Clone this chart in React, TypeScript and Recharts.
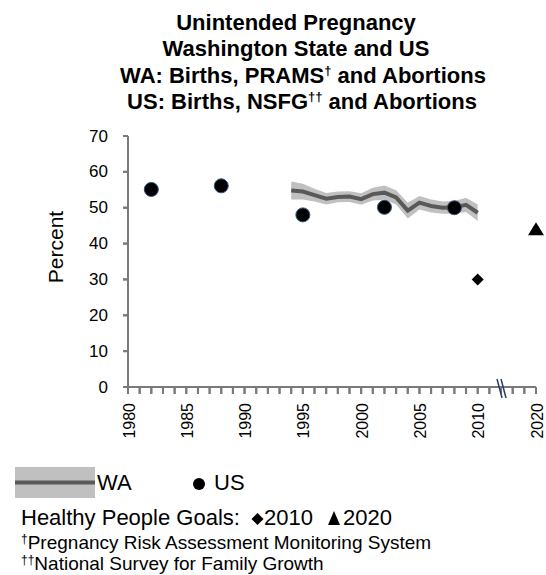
import { ComposedChart, Area, Line, Scatter, XAxis, YAxis } from "recharts";

// WA: births, PRAMS and abortions (line with confidence band)
const waYears = [1994, 1995, 1996, 1997, 1998, 1999, 2000, 2001, 2002, 2003, 2004, 2005, 2006, 2007, 2008, 2009, 2010];
const waPercent = [54.8, 54.5, 53.5, 52.5, 53.0, 53.1, 52.4, 53.8, 54.2, 52.9, 49.2, 51.4, 50.5, 50.0, 50.1, 50.8, 48.6];
const waLower = [52.3, 52.3, 51.7, 50.9, 51.5, 51.6, 50.8, 52.0, 52.2, 50.9, 47.0, 49.5, 48.7, 48.3, 48.3, 48.8, 46.3];
const waUpper = [57.3, 56.7, 55.3, 54.1, 54.5, 54.6, 54.0, 55.6, 56.2, 54.9, 51.4, 53.3, 52.3, 51.7, 51.9, 52.8, 50.9];

// US: births, NSFG and abortions
const usYears = [1982, 1988, 1995, 2002, 2008];
const usPercent = [55.1, 56.1, 48.0, 50.1, 50.0];

// Healthy People goals
const goalYears = [2010, 2020];
const goalPercent = [30, 44];

const labelYears = [1980, 1985, 1990, 1995, 2000, 2005, 2010, 2020];
const yTicks = [0, 10, 20, 30, 40, 50, 60, 70];

// broken axis: 1980..2014 one slot per year, everything after sits on the last slot
const FIRST_YEAR = 1980;
const LAST_SLOT = 35;
const BREAK_SLOT = 32;
const slotOf = (year: number) => Math.min(year - FIRST_YEAR, LAST_SLOT);
const xTicks = Array.from({ length: LAST_SLOT + 1 }, (_, i) => i);
const labelBySlot = new Map(labelYears.map((y) => [slotOf(y), String(y)]));

const waData = waYears.map((y, i) => ({
  slot: slotOf(y),
  wa: waPercent[i],
  band: [waLower[i], waUpper[i]],
}));
const usData = usYears.map((y, i) => ({ slot: slotOf(y), us: usPercent[i] }));
const goal2010 = [{ slot: slotOf(goalYears[0]), goal: goalPercent[0] }];
const goal2020 = [{ slot: slotOf(goalYears[1]), goal: goalPercent[1] }];

const FONT = "'Liberation Sans', Arial, sans-serif";
const AXIS = "#7a7a7a";
const X_TICK = 7;
const X_GAP = 9;

// y here is where recharts puts the label: axis + tick + margin
function SlotTick(props: any) {
  const { x, y, payload } = props;
  const label = labelBySlot.get(payload.value);
  const axisY = Number(y) - X_TICK - X_GAP;
  return (
    <g>
      <rect x={Number(x) - 1} y={axisY} width={2} height={X_TICK} fill={AXIS} />
      {payload.value === BREAK_SLOT && (
        <g stroke="#2b3f66" strokeWidth={1.5}>
          <line x1={x - 4} y1={axisY - 8} x2={x + 1} y2={axisY + 11} />
          <line x1={x} y1={axisY - 8} x2={x + 5} y2={axisY + 11} />
        </g>
      )}
      {label && (
        <text
          x={x + 1}
          y={y}
          transform={`rotate(-90, ${x + 1}, ${y})`}
          textAnchor="end"
          dominantBaseline="central"
          fontSize={16}
          fontFamily={FONT}
          fill="#000"
        >
          {label}
        </text>
      )}
    </g>
  );
}

function ValueTick(props: any) {
  const { x, y, payload } = props;
  return (
    <g>
      <rect x={Number(x) + 15} y={Number(y) - 1} width={5} height={2} fill={AXIS} />
      <text x={x} y={y} textAnchor="end" dominantBaseline="central" fontSize={17} fontFamily={FONT} fill="#000">
        {payload.value}
      </text>
    </g>
  );
}

const Dot = (p: any) => (
  <circle cx={p.cx} cy={p.cy} r={7} fill="#000" stroke="#2f4f7f" strokeWidth={1} />
);
const Diamond = (p: any) => (
  <path d={`M${p.cx},${p.cy - 6}L${p.cx + 6},${p.cy}L${p.cx},${p.cy + 6}L${p.cx - 6},${p.cy}Z`} fill="#000" />
);
const Triangle = (p: any) => (
  <path d={`M${p.cx},${p.cy - 7}L${p.cx + 8},${p.cy + 6}L${p.cx - 8},${p.cy + 6}Z`} fill="#000" />
);

export default function App() {
  return (
    <div style={{ position: "absolute", left: 0, top: 0, width: 546, height: 575, background: "#fff", overflow: "hidden" }}>
      <ComposedChart width={546} height={460} data={waData} margin={{ top: 136, right: 10, bottom: 0, left: 0 }}>
        <XAxis
          type="number"
          dataKey="slot"
          domain={[0, LAST_SLOT]}
          ticks={xTicks}
          interval={0}
          tick={<SlotTick />}
          tickSize={X_TICK}
          tickMargin={X_GAP}
          tickLine={{ stroke: AXIS, strokeWidth: 2 }}
          height={73}
          axisLine={{ stroke: AXIS, strokeWidth: 2 }}
        />
        <YAxis
          type="number"
          domain={[0, 70]}
          ticks={yTicks}
          interval={0}
          width={128}
          tickSize={5}
          tickMargin={15}
          axisLine={{ stroke: AXIS, strokeWidth: 2 }}
          tickLine={{ stroke: AXIS, strokeWidth: 2 }}
          tick={<ValueTick />}
        />
        <Area dataKey="band" fill="#c0c0c0" fillOpacity={1} stroke="none" isAnimationActive={false} />
        <Line dataKey="wa" stroke="#595959" strokeWidth={4} dot={false} isAnimationActive={false} />
        <Scatter data={usData} dataKey="us" shape={Dot} isAnimationActive={false} />
        <Scatter data={goal2010} dataKey="goal" shape={Diamond} isAnimationActive={false} />
        <Scatter data={goal2020} dataKey="goal" shape={Triangle} isAnimationActive={false} />
      </ComposedChart>

      <svg width={546} height={575} style={{ position: "absolute", left: 0, top: 0, pointerEvents: "none" }} fontFamily={FONT}>
        <g fontSize={22} fontWeight="bold" textAnchor="middle" fill="#000">
          <text x={296} y={30}>Unintended Pregnancy</text>
          <text x={296} y={56}>Washington State and US</text>
          <text x={303} y={83}>
            WA: Births, PRAMS<tspan fontSize={13} dy={-8}>†</tspan>
            <tspan dy={8}> and Abortions</tspan>
          </text>
          <text x={302} y={109}>
            US: Births, NSFG<tspan fontSize={13} dy={-8}>††</tspan>
            <tspan dy={8}> and Abortions</tspan>
          </text>
        </g>

        <text x={63} y={247} transform="rotate(-90, 63, 247)" textAnchor="middle" fontSize={21} fill="#000">
          Percent
        </text>

        <rect x={15} y={467} width={80} height={31} fill="#c0c0c0" />
        <line x1={15} y1={482.5} x2={95} y2={482.5} stroke="#595959" strokeWidth={4} />
        <text x={97} y={490} fontSize={22} fill="#000">WA</text>
        <circle cx={199} cy={484} r={6} fill="#000" />
        <text x={214} y={490} fontSize={22} fill="#000">US</text>

        <text x={21} y={525} fontSize={22} fill="#000">Healthy People Goals:</text>
        <path d="M257.5,513L263.5,519L257.5,525L251.5,519Z" fill="#000" />
        <text x={264} y={525} fontSize={22} fill="#000">2010</text>
        <path d="M334,511L340,525L328,525Z" fill="#000" />
        <text x={343} y={525} fontSize={22} fill="#000">2020</text>

        <text x={21} y={549} fontSize={19} fill="#000">
          <tspan fontSize={12} dy={-6}>†</tspan>
          <tspan dy={6}>Pregnancy Risk Assessment Monitoring System</tspan>
        </text>
        <text x={21} y={570} fontSize={19} fill="#000">
          <tspan fontSize={12} dy={-6}>††</tspan>
          <tspan dy={6}>National Survey for Family Growth</tspan>
        </text>
      </svg>
    </div>
  );
}
